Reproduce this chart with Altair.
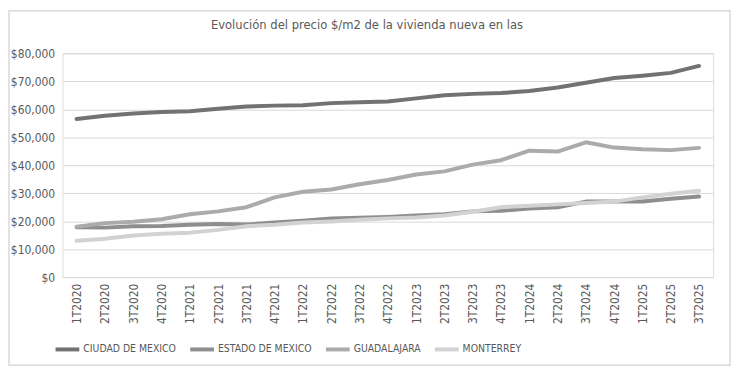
import altair as alt
import pandas as pd

quarters = ["1T2020", "2T2020", "3T2020", "4T2020", "1T2021", "2T2021", "3T2021", "4T2021",
            "1T2022", "2T2022", "3T2022", "4T2022", "1T2023", "2T2023", "3T2023", "4T2023",
            "1T2024", "2T2024", "3T2024", "4T2024", "1T2025", "2T2025", "3T2025"]

cdmx = [56500, 57700, 58500, 59000, 59300, 60200, 61000, 61300, 61400, 62200, 62500, 62800,
        63900, 65000, 65500, 65800, 66500, 67800, 69500, 71200, 72000, 73000, 75500]
edomex = [17800, 17700, 18200, 18300, 18700, 19000, 18800, 19500, 20200, 21000, 21200, 21500,
          22000, 22500, 23500, 23700, 24500, 25000, 27000, 27000, 27000, 28000, 28800]
gdl = [18000, 19300, 19800, 20700, 22500, 23500, 25000, 28500, 30500, 31300, 33200, 34700,
       36700, 37800, 40200, 41800, 45200, 44900, 48200, 46300, 45700, 45400, 46200]
mty = [13000, 13700, 14900, 15500, 15900, 16900, 18200, 18700, 19500, 19900, 20500, 21000,
       21300, 22000, 23400, 25000, 25500, 26000, 26500, 27000, 28500, 29800, 30900]

series_names = ["CIUDAD DE MEXICO", "ESTADO DE MEXICO", "GUADALAJARA", "MONTERREY"]
series_values = [cdmx, edomex, gdl, mty]
series_colors = ["#727272", "#8e8e8e", "#ababab", "#d2d2d2"]
title_text = "Evolución del precio $/m2 de la vivienda nueva en las"

rows = []
for name, vals in zip(series_names, series_values):
    for q, v in zip(quarters, vals):
        rows.append({"Trimestre": q, "Serie": name, "Precio": v})
df = pd.DataFrame(rows)

FONT = "'Liberation Sans Narrow', 'DejaVu Sans Condensed', 'Roboto Condensed', 'Liberation Sans', sans-serif"
W, H = 657, 226

lines = alt.Chart(df).mark_line(strokeWidth=4, strokeCap="round", strokeJoin="round").encode(
    x=alt.X("Trimestre:N", sort=quarters, title=None,
            axis=alt.Axis(labelAngle=270, labelPadding=6, ticks=False, domain=False, grid=False,
                          labelFontSize=12, labelColor="#595959", labelFont=FONT)),
    y=alt.Y("Precio:Q", title=None, scale=alt.Scale(domain=[0, 80000]),
            axis=alt.Axis(values=list(range(0, 80001, 10000)), format="$,.0f", ticks=False,
                          domain=False, gridColor="#d9d9d9", gridWidth=1, labelPadding=8,
                          labelFontSize=12, labelColor="#595959", labelFont=FONT)),
    color=alt.Color("Serie:N", sort=series_names,
                    scale=alt.Scale(domain=series_names, range=series_colors),
                    legend=alt.Legend(orient="none", legendX=-9, legendY=285, direction="horizontal",
                                      title=None, symbolType="stroke", symbolSize=576,
                                      symbolStrokeWidth=4, labelFontSize=10.5, labelColor="#595959",
                                      labelFont=FONT, columnPadding=6, labelOffset=2)),
    order=alt.Order("Serie:N"),
)

title_mark = alt.Chart(pd.DataFrame({"t": [title_text]})).mark_text(
    font=FONT, fontSize=13, color="#595959", align="center", baseline="alphabetic"
).encode(text="t:N", x=alt.value(W / 2 - 21), y=alt.value(-25))

border = alt.Chart(pd.DataFrame({"a": [0]})).mark_rect(fill=None, stroke="#d9d9d9", strokeWidth=1.5).encode(
    x=alt.value(-54), x2=alt.value(W + 17), y=alt.value(-43), y2=alt.value(H + 89)
)

chart = alt.layer(lines, title_mark, border).properties(
    width=W, height=H,
    autosize=alt.AutoSizeParams(type="none"),
    padding={"left": 55, "top": 44, "right": 18, "bottom": 90},
).configure_view(stroke=None).configure(background="white")

chart.save("out.html", embed_options={"renderer": "svg", "actions": False})
